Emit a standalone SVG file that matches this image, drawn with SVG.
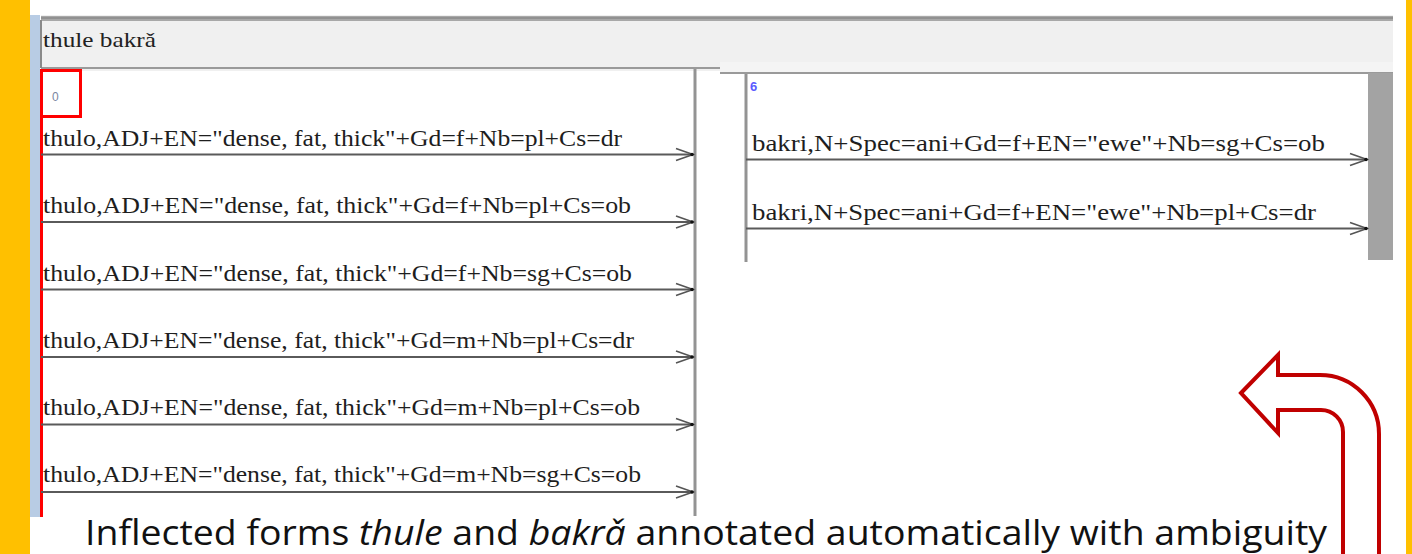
<svg xmlns="http://www.w3.org/2000/svg" width="1412" height="554" viewBox="0 0 1412 554">
<style>
.row{font-family:"Liberation Serif",serif;font-size:23px;fill:#1e1e1e}
.conn{stroke:#5a5a5a;stroke-width:2;fill:none}
.vline{stroke:#939393;stroke-width:3}
.cap{font-family:"Open Sans","Noto Sans",sans-serif;font-size:34px;fill:#111}
</style>
<defs>
<marker id="ah" markerUnits="userSpaceOnUse" markerWidth="24" markerHeight="16" viewBox="-20 -8 24 16" refX="0" refY="0" orient="auto">
<path d="M-17,-6 L0,0 L-17,6" fill="none" stroke="#555" stroke-width="1.6"/>
<circle cx="-1" cy="0" r="1.8" fill="#111"/>
</marker>
</defs>
<rect width="1412" height="554" fill="#fff"/>
<rect x="0" y="0" width="30" height="554" fill="#ffc000"/>
<rect x="1406" y="0" width="6" height="554" fill="#ffc000"/>
<rect x="30" y="15" width="10" height="502" fill="#b8cce4"/>

<g id="input-box">
<rect x="41" y="15" width="1352" height="56" fill="#f0f0f0"/>
<rect x="720" y="62" width="673" height="12" fill="#f4f4f4"/>
<rect x="41" y="16" width="1352" height="5" fill="#a8a8a8"/>
<line x1="41" y1="18" x2="1393" y2="18" stroke="#8a8a8a" stroke-width="1.5"/>
<line x1="41" y1="68" x2="720" y2="68" stroke="#9a9a9a" stroke-width="2"/>
<line x1="720" y1="73" x2="1393" y2="73" stroke="#9a9a9a" stroke-width="2"/>
<line x1="41" y1="20" x2="41" y2="68" stroke="#8a8a8a" stroke-width="2"/>
<text x="43" y="47" font-family="Liberation Serif,serif" font-size="21" fill="#222" textLength="113" lengthAdjust="spacingAndGlyphs">thule bakrǎ</text>
</g>

<g id="left-panel">
<line class="vline" x1="695" y1="69" x2="695" y2="516"/>
<line x1="41.5" y1="70" x2="41.5" y2="517" stroke="#ff0000" stroke-width="3"/>
<rect x="41.5" y="70.5" width="39" height="46" fill="none" stroke="#ff0000" stroke-width="3"/>
<text x="52" y="101" font-family="Liberation Sans,sans-serif" font-size="12" fill="#7a86a0">0</text>
</g>
<g id="row-1"><text class="row" x="43" y="146" textLength="579" lengthAdjust="spacingAndGlyphs">thulo,ADJ+EN="dense, fat, thick"+Gd=f+Nb=pl+Cs=dr</text></g>
<g id="row-2"><text class="row" x="43" y="213" textLength="588" lengthAdjust="spacingAndGlyphs">thulo,ADJ+EN="dense, fat, thick"+Gd=f+Nb=pl+Cs=ob</text></g>
<g id="row-3"><text class="row" x="43" y="281" textLength="589" lengthAdjust="spacingAndGlyphs">thulo,ADJ+EN="dense, fat, thick"+Gd=f+Nb=sg+Cs=ob</text></g>
<g id="row-4"><text class="row" x="43" y="348" textLength="591" lengthAdjust="spacingAndGlyphs">thulo,ADJ+EN="dense, fat, thick"+Gd=m+Nb=pl+Cs=dr</text></g>
<g id="row-5"><text class="row" x="43" y="415" textLength="597" lengthAdjust="spacingAndGlyphs">thulo,ADJ+EN="dense, fat, thick"+Gd=m+Nb=pl+Cs=ob</text></g>
<g id="row-6"><text class="row" x="43" y="482" textLength="598" lengthAdjust="spacingAndGlyphs">thulo,ADJ+EN="dense, fat, thick"+Gd=m+Nb=sg+Cs=ob</text></g>

<g id="right-panel">
<line class="vline" x1="746" y1="74" x2="746" y2="262"/>
<rect x="1368" y="73" width="25" height="187" fill="#a3a3a3"/>
<text x="750" y="91" font-family="Liberation Sans,sans-serif" font-size="13" font-weight="bold" fill="#5a5aff">6</text>
</g>
<g id="row-r1"><text class="row" x="752" y="151" textLength="573" lengthAdjust="spacingAndGlyphs">bakri,N+Spec=ani+Gd=f+EN="ewe"+Nb=sg+Cs=ob</text></g>
<g id="row-r2"><text class="row" x="752" y="220" textLength="564" lengthAdjust="spacingAndGlyphs">bakri,N+Spec=ani+Gd=f+EN="ewe"+Nb=pl+Cs=dr</text></g>

<g id="connectors">
<line class="conn" x1="41" y1="154.5" x2="693" y2="154.5" marker-end="url(#ah)"/>
<line class="conn" x1="41" y1="222" x2="693" y2="222" marker-end="url(#ah)"/>
<line class="conn" x1="41" y1="289.5" x2="693" y2="289.5" marker-end="url(#ah)"/>
<line class="conn" x1="41" y1="357" x2="693" y2="357" marker-end="url(#ah)"/>
<line class="conn" x1="41" y1="424.5" x2="693" y2="424.5" marker-end="url(#ah)"/>
<line class="conn" x1="41" y1="492" x2="693" y2="492" marker-end="url(#ah)"/>
<line class="conn" x1="746" y1="159.5" x2="1367" y2="159.5" marker-end="url(#ah)"/>
<line class="conn" x1="746" y1="228.5" x2="1367" y2="228.5" marker-end="url(#ah)"/>
</g>

<g id="caption">
<text class="cap" x="85" y="545" textLength="1242" lengthAdjust="spacingAndGlyphs">Inflected forms <tspan font-style="italic">thule</tspan> and <tspan font-style="italic">bakrǎ</tspan> annotated automatically with ambiguity</text>
</g>

<g id="red-arrow">
<path d="M1241,393 L1278,355 L1278,375 L1320,375 A59,59 0 0 1 1379,434 L1379,560 L1343,560 L1343,432 A22,22 0 0 0 1321,410 L1278,410 L1278,433 Z" fill="#fff" stroke="#c00000" stroke-width="4" stroke-linejoin="miter"/>
</g>
</svg>
